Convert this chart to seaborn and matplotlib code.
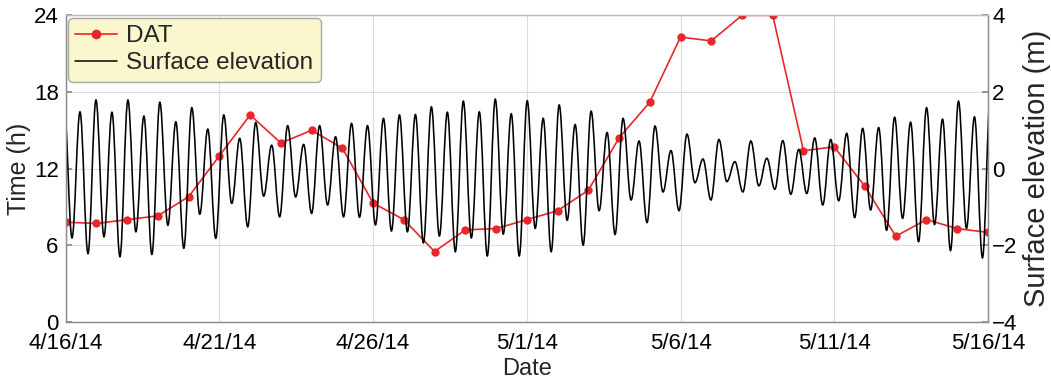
import numpy as np
import pandas as pd
import seaborn as sns
import matplotlib
matplotlib.use("Agg")
import matplotlib.pyplot as plt
import matplotlib.dates as mdates
from matplotlib.path import Path
from matplotlib.patches import PathPatch
from matplotlib.lines import Line2D

# DAT, one value per day (h)
dat_dates = pd.date_range("2014-04-16", "2014-05-16", freq="D")
dat_hours = [7.8, 7.7, 8.0, 8.3, 9.8, 13.0, 16.2, 14.0, 15.0, 13.6,
             9.3, 8.0, 5.5, 7.2, 7.3, 8.0, 8.7, 10.3, 14.4, 17.2,
             22.3, 22.0, 24.0, 24.0, 13.4, 13.7, 10.6, 6.7, 8.0, 7.3, 7.0]

# surface elevation: successive high / low waters (m)
high_water = [1.70, 1.48, 1.79, 1.47, 1.79, 1.37, 1.73, 1.22, 1.59, 1.03,
              1.40, 0.79, 1.20, 0.61, 1.12, 0.63, 1.12, 0.83, 1.18, 1.12,
              1.31, 1.40, 1.41, 1.61, 1.47, 1.76, 1.48, 1.81, 1.43, 1.77,
              1.31, 1.66, 1.15, 1.50, 0.94, 1.31, 0.72, 1.11, 0.47, 0.90,
              0.25, 0.76, 0.18, 0.72, 0.27, 0.73, 0.50, 0.80, 0.76, 0.92,
              1.05, 1.07, 1.34, 1.21, 1.59, 1.29, 1.76, 1.35, 1.92]
low_water = [-1.81, -2.22, -1.78, -2.30, -1.65, -2.24, -1.48, -2.08, -1.19, -1.82,
             -0.91, -1.52, -0.72, -1.26, -0.74, -1.17, -0.95, -1.26, -1.27, -1.47,
             -1.63, -1.65, -1.94, -1.76, -2.17, -1.81, -2.28, -1.71, -2.28, -1.56,
             -2.17, -1.35, -2.00, -1.10, -1.72, -0.82, -1.41, -0.61, -1.10, -0.37,
             -0.82, -0.34, -0.61, -0.45, -0.54, -0.67, -0.65, -0.95, -0.84, -1.28,
             -1.08, -1.61, -1.30, -1.91, -1.46, -2.14, -1.56, -2.33]
first_high = pd.Timestamp("2014-04-16") - pd.Timedelta(hours=1.3)
half_tide_h = 6.235

tick_dates = pd.date_range("2014-04-16", "2014-05-16", freq="5D")
left_ticks = [0, 6, 12, 18, 24]
right_ticks = [-4, -2, 0, 2, 4]

red = "#E8262B"

sns.set_theme(style="white")
plt.rcParams["font.family"] = ["Liberation Sans", "DejaVu Sans"]

fig, ax = plt.subplots(figsize=(10.51, 3.84), dpi=100)
fig.subplots_adjust(left=0.0625, right=0.940, top=0.960, bottom=0.162)
ax2 = ax.twinx()

sns.lineplot(x=dat_dates, y=dat_hours, ax=ax, color=red, lw=1.2,
             marker="o", markersize=6, markeredgewidth=0, zorder=3)

# tide curve: smooth half-waves between the read extremes
ext = np.empty(len(high_water) + len(low_water))
ext[0::2] = high_water
ext[1::2] = low_water
times = first_high + pd.to_timedelta(np.arange(len(ext)) * half_tide_h, unit="h")
xs = mdates.date2num(times.to_pydatetime())
k = 1 - 2 / np.pi
verts = [(xs[0], ext[0])]
codes = [Path.MOVETO]
for i in range(len(ext) - 1):
    d = xs[i + 1] - xs[i]
    verts += [(xs[i] + k * d, ext[i]), (xs[i + 1] - k * d, ext[i + 1]), (xs[i + 1], ext[i + 1])]
    codes += [Path.CURVE4] * 3
ax2.add_patch(PathPatch(Path(verts, codes), fill=False, edgecolor="black", lw=1.15))

ax.set_xlim(tick_dates[0], tick_dates[-1])
ax.set_ylim(0, 24)
ax2.set_ylim(-4, 4)
ax.set_xticks(tick_dates)
ax.set_xticklabels([f"{d.month}/{d.day}/{d.year % 100}" for d in tick_dates])
ax.set_yticks(left_ticks)
ax2.set_yticks(right_ticks)

ax.grid(True, color="#DCDCDC", lw=0.8)
ax2.grid(False)
for a in (ax, ax2):
    for s in a.spines.values():
        s.set_color("#8C8C8C")
        s.set_linewidth(0.9)
    a.spines["top"].set_color("#BDBDBD")
ax.tick_params(axis="both", direction="in", length=4, color="#8C8C8C",
               labelsize=16, labelcolor="black")
ax.tick_params(axis="x", pad=8)
ax.tick_params(axis="y", pad=5)
ax2.tick_params(axis="y", direction="in", length=4, color="#8C8C8C",
                labelsize=16, labelcolor="black", pad=3)

ax.set_xlabel("Date", fontsize=17, labelpad=3)
ax.set_ylabel("Time (h)", fontsize=18, labelpad=2)
ax2.set_ylabel("Surface elevation (m)", fontsize=21, labelpad=4)

handles = [Line2D([], [], color=red, lw=1.2, marker="o", markersize=7, markeredgewidth=0),
           Line2D([], [], color="black", lw=1.1)]
ax2.legend(handles, ["DAT", "Surface elevation"], loc="upper left",
           bbox_to_anchor=(0, 1), borderaxespad=0.1, fontsize=17.5,
           facecolor="#FAF6CD", edgecolor="#A8A8A8", framealpha=1, fancybox=True,
           handlelength=1.7, borderpad=0.3, labelspacing=0.22, handletextpad=0.4)

fig.savefig("out.png", dpi=100)
